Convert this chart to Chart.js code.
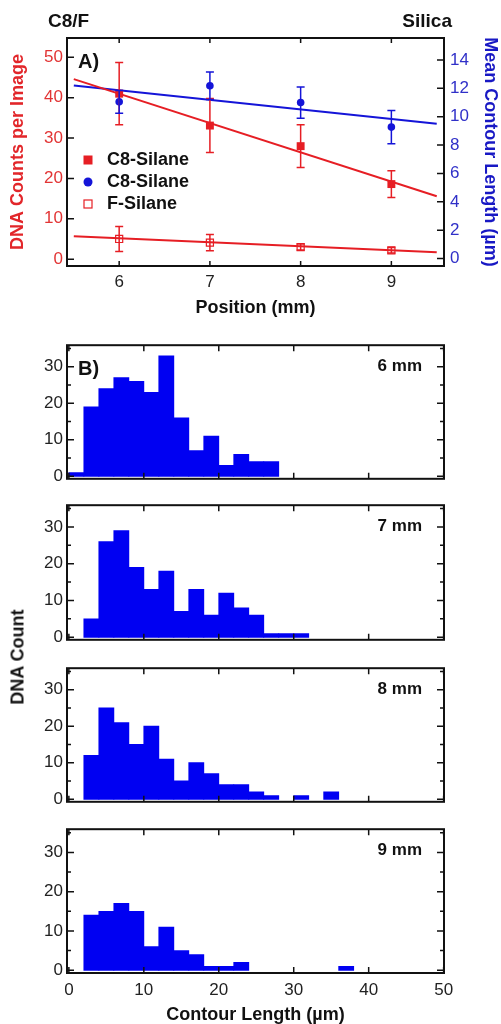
<!DOCTYPE html>
<html>
<head>
<meta charset="utf-8">
<title>DNA counts and contour lengths</title>
<script src="https://cdn.jsdelivr.net/npm/chart.js@4"></script>
<style>
  body { margin: 0; background: #fff; }
  .page { position: relative; width: 501px; height: 1024px; overflow: hidden; }
  .page canvas { position: absolute; left: 0; }
  .side-title {
    position: absolute; left: 18px; top: 657px;
    transform: translate(-50%, -50%) rotate(-90deg);
    font: bold 18px "Liberation Sans", Arial, sans-serif;
    color: #111; white-space: nowrap;
  }
</style>
</head>
<body>
<div class="page">
  <canvas id="positionChart" width="501" height="325" style="top:0"></canvas>
  <canvas id="hist6" width="501" height="162" style="top:331px"></canvas>
  <canvas id="hist7" width="501" height="163" style="top:491px"></canvas>
  <canvas id="hist8" width="501" height="162" style="top:654px"></canvas>
  <canvas id="hist9" width="501" height="209" style="top:815px"></canvas>
  <div class="side-title">DNA Count</div>
</div>
<script>
// panel A: counts and mean length vs position
const positions = [6, 7, 8, 9];
const c8Counts = [41, 33.1, 28, 18.6];
const c8CountErr = [7.7, 6.7, 5.3, 3.3];
const c8Lengths = [11.05, 12.18, 11.0, 9.27];
const c8LengthErr = [0.8, 0.97, 1.1, 1.17];
const fCounts = [5, 4.1, 3, 2.2];
const fCountErr = [3.1, 2.0, 0.75, 0.7];

// linear fits, drawn between the end positions
const fitPositions = [5.5, 9.5];
const c8CountFit = [44.6, 15.6];
const c8LengthFit = [12.2, 9.5];
const fCountFit = [5.7, 1.7];

const positionTicks = [6, 7, 8, 9];
const countTicks = [0, 10, 20, 30, 40, 50];
const lengthTicks = [0, 2, 4, 6, 8, 10, 12, 14];

// panel B: histograms, 2 um bins
const binCenters = [1, 3, 5, 7, 9, 11, 13, 15, 17, 19, 21, 23, 25, 27, 29, 31, 33, 35, 37];
const counts6mm = [1, 19, 24, 27, 26, 23, 33, 16, 7, 11, 3, 6, 4, 4, 0, 0, 0, 0, 0];
const counts7mm = [0, 5, 26, 29, 19, 13, 18, 7, 13, 6, 12, 8, 6, 1, 1, 1, 0, 0, 0];
const counts8mm = [0, 12, 25, 21, 15, 20, 11, 5, 10, 7, 4, 4, 2, 1, 0, 1, 0, 2, 0];
const counts9mm = [0, 14, 15, 17, 15, 6, 11, 5, 4, 1, 1, 2, 0, 0, 0, 0, 0, 0, 1];
const histLabels = ['6 mm', '7 mm', '8 mm', '9 mm'];
const lengthAxisTicks = [0, 10, 20, 30, 40, 50];
const histCountTicks = [0, 10, 20, 30];
const histMinorTicks = [5, 15, 25, 35];

const RED = '#e61e24';
const BLUE = '#1414d8';
const INK = '#111';

Chart.defaults.font.family = '"Liberation Sans", Arial, Helvetica, sans-serif';
Chart.defaults.color = '#222';

const pairs = (xs, ys) => xs.map((x, i) => ({ x, y: ys[i] }));
const fixedTicks = vals => scale => { scale.ticks = vals.map(v => ({ value: v })); };

// black frame around the plot area with inward tick marks
const frameTicks = {
  id: 'frameTicks',
  afterDatasetsDraw(chart, args, opts) {
    const { ctx, chartArea: a } = chart;
    ctx.save();
    ctx.strokeStyle = INK;
    ctx.lineWidth = 1.5;
    ctx.beginPath();
    for (const m of opts.marks || []) {
      const s = chart.scales[m.axis];
      for (const v of m.values) {
        const p = s.getPixelForValue(v);
        for (const side of m.sides) {
          if (side === 'top') { ctx.moveTo(p, a.top); ctx.lineTo(p, a.top + m.len); }
          if (side === 'bottom') { ctx.moveTo(p, a.bottom); ctx.lineTo(p, a.bottom - m.len); }
          if (side === 'left') { ctx.moveTo(a.left, p); ctx.lineTo(a.left + m.len, p); }
          if (side === 'right') { ctx.moveTo(a.right, p); ctx.lineTo(a.right - m.len, p); }
        }
      }
    }
    ctx.stroke();
    ctx.lineWidth = 2;
    ctx.strokeRect(a.left, a.top, a.right - a.left, a.bottom - a.top);
    ctx.restore();
  }
};

// free text placed relative to the plot area
const notes = {
  id: 'notes',
  afterDraw(chart, args, opts) {
    const { ctx, chartArea: a } = chart;
    ctx.save();
    ctx.fillStyle = INK;
    ctx.textBaseline = 'middle';
    for (const n of opts.items || []) {
      ctx.font = `bold ${n.size}px ${Chart.defaults.font.family}`;
      ctx.textAlign = n.align || 'left';
      ctx.fillText(n.text, (n.fromRight ? a.right : a.left) + n.dx, a.top + n.dy);
    }
    ctx.restore();
  }
};

// vertical error bars with caps
const errorBars = {
  id: 'errorBars',
  afterDatasetsDraw(chart) {
    const ctx = chart.ctx;
    chart.data.datasets.forEach((ds, i) => {
      if (!ds.errors) return;
      const meta = chart.getDatasetMeta(i);
      const ys = chart.scales[ds.yAxisID];
      ctx.save();
      ctx.strokeStyle = ds.borderColor;
      ctx.lineWidth = 1.5;
      ctx.beginPath();
      meta.data.forEach((pt, j) => {
        const v = ds.data[j].y, e = ds.errors[j];
        const top = ys.getPixelForValue(v + e), bot = ys.getPixelForValue(v - e);
        ctx.moveTo(pt.x, top); ctx.lineTo(pt.x, bot);
        ctx.moveTo(pt.x - 4, top); ctx.lineTo(pt.x + 4, top);
        ctx.moveTo(pt.x - 4, bot); ctx.lineTo(pt.x + 4, bot);
      });
      ctx.stroke();
      ctx.restore();
    });
  }
};

// legend drawn inside the plot area
const insetLegend = {
  id: 'insetLegend',
  afterDraw(chart, args, opts) {
    const { ctx, chartArea: a } = chart;
    const items = chart.data.datasets.filter(ds => !ds.showLine);
    ctx.save();
    ctx.font = `bold 18px ${Chart.defaults.font.family}`;
    ctx.textBaseline = 'middle';
    items.forEach((ds, i) => {
      const x = a.left + opts.dx, y = a.top + opts.dy + i * opts.rowGap;
      ctx.fillStyle = ds.backgroundColor;
      ctx.strokeStyle = ds.borderColor;
      ctx.lineWidth = 1.2;
      if (ds.pointStyle === 'circle') {
        ctx.beginPath(); ctx.arc(x, y, 4.5, 0, Math.PI * 2); ctx.fill();
      } else if (ds.backgroundColor === 'transparent') {
        ctx.strokeRect(x - 4, y - 4, 8, 8);
      } else {
        ctx.fillRect(x - 4.5, y - 4.5, 9, 9);
      }
      ctx.fillStyle = INK;
      ctx.fillText(ds.label, x + 19, y);
    });
    ctx.restore();
  }
};

const tickFont = { size: 17 };
const titleFont = { size: 18, weight: 'bold' };

new Chart(document.getElementById('positionChart'), {
  type: 'scatter',
  data: {
    datasets: [
      { label: 'C8-Silane', data: pairs(positions, c8Counts), errors: c8CountErr, yAxisID: 'y',
        pointStyle: 'rect', pointRadius: 5.6, backgroundColor: RED, borderColor: RED, borderWidth: 0 },
      { label: 'C8-Silane', data: pairs(positions, c8Lengths), errors: c8LengthErr, yAxisID: 'y2',
        pointStyle: 'circle', pointRadius: 3.8, backgroundColor: BLUE, borderColor: BLUE, borderWidth: 0 },
      { label: 'F-Silane', data: pairs(positions, fCounts), errors: fCountErr, yAxisID: 'y',
        pointStyle: 'rect', pointRadius: 5, backgroundColor: 'transparent', borderColor: RED, borderWidth: 1.2 },
      { label: 'fit', data: pairs(fitPositions, c8CountFit), yAxisID: 'y', showLine: true,
        pointRadius: 0, borderColor: RED, borderWidth: 2 },
      { label: 'fit', data: pairs(fitPositions, c8LengthFit), yAxisID: 'y2', showLine: true,
        pointRadius: 0, borderColor: BLUE, borderWidth: 2 },
      { label: 'fit', data: pairs(fitPositions, fCountFit), yAxisID: 'y', showLine: true,
        pointRadius: 0, borderColor: RED, borderWidth: 2 }
    ]
  },
  options: {
    responsive: false,
    animation: false,
    layout: { padding: { top: 38 } },
    scales: {
      x: {
        type: 'linear', min: 5.425, max: 9.58,
        afterBuildTicks: fixedTicks(positionTicks),
        afterFit: s => { s.height = 59; },
        grid: { display: false, drawTicks: false }, border: { display: false },
        ticks: { padding: 6, font: tickFont, color: '#222' },
        title: { display: true, text: 'Position (mm)', font: titleFont, color: INK, padding: { top: 0, bottom: 6 } }
      },
      y: {
        position: 'left', min: -1.7, max: 54.8,
        afterBuildTicks: fixedTicks(countTicks),
        afterFit: s => { s.width = 67; },
        grid: { display: false, drawTicks: false }, border: { display: false },
        ticks: { padding: 4, font: tickFont, color: '#e23434' },
        title: { display: true, text: 'DNA Counts per Image', font: titleFont, color: '#e2262a', padding: { top: 7, bottom: 0 } }
      },
      y2: {
        position: 'right', min: -0.52, max: 15.55,
        afterBuildTicks: fixedTicks(lengthTicks),
        afterFit: s => { s.width = 57; },
        grid: { display: false, drawTicks: false }, border: { display: false },
        ticks: { padding: 6, font: tickFont, color: '#3030c8' },
        title: { display: true, text: 'Mean Contour Length (µm)', font: titleFont, color: '#1818c4', padding: { top: 0, bottom: 0 } }
      }
    },
    plugins: {
      legend: { display: false },
      tooltip: { enabled: false },
      frameTicks: { marks: [
        { axis: 'x', values: positionTicks, len: 5, sides: ['top', 'bottom'] },
        { axis: 'y', values: countTicks, len: 7, sides: ['left'] },
        { axis: 'y2', values: lengthTicks, len: 7, sides: ['right'] }
      ] },
      notes: { items: [
        { text: 'A)', size: 20, dx: 11, dy: 24 },
        { text: 'C8/F', size: 19, dx: -19, dy: -16 },
        { text: 'Silica', size: 19, dx: 8, dy: -16, fromRight: true, align: 'right' }
      ] },
      insetLegend: { dx: 21, dy: 122, rowGap: 22 }
    }
  },
  plugins: [errorBars, frameTicks, notes, insetLegend]
});

function histogram(id, counts, label, index, last) {
  const notesItems = [{ text: label, size: 17, dx: -22, dy: 21, fromRight: true, align: 'right' }];
  if (index === 0) notesItems.push({ text: 'B)', size: 20, dx: 11, dy: 24 });
  new Chart(document.getElementById(id), {
    type: 'bar',
    data: {
      datasets: [{
        data: pairs(binCenters, counts),
        backgroundColor: '#0000f2',
        borderWidth: 0,
        // only the filled bins get the seam-hiding overlap
        inflateAmount: c => (c.raw && c.raw.y ? 0.4 : 0),
        barPercentage: 1,
        categoryPercentage: 1
      }]
    },
    options: {
      responsive: false,
      animation: false,
      layout: { padding: { top: 10, right: 57 } },
      scales: {
        x: {
          type: 'linear', min: -0.25, max: 50.05, offset: false,
          afterBuildTicks: fixedTicks(lengthAxisTicks),
          afterFit: s => { s.height = last ? 51 : 3; },
          grid: { display: false, drawTicks: false, offset: false }, border: { display: false },
          ticks: { display: last, padding: 7, font: tickFont, color: '#222' },
          title: { display: last, text: 'Contour Length (µm)', font: { size: 18, weight: 'bold', lineHeight: 1 }, color: INK, padding: { top: 0, bottom: 0 } }
        },
        y: {
          min: -0.7, max: 35.9,
          afterBuildTicks: fixedTicks(histCountTicks),
          afterFit: s => { s.width = 67; },
          grid: { display: false, drawTicks: false }, border: { display: false },
          ticks: { padding: 4, font: tickFont, color: '#222' }
        }
      },
      plugins: {
        legend: { display: false },
        tooltip: { enabled: false },
        frameTicks: { marks: [
          { axis: 'x', values: lengthAxisTicks, len: 6, sides: ['top', 'bottom'] },
          { axis: 'y', values: histCountTicks, len: 7, sides: ['left', 'right'] },
          { axis: 'y', values: histMinorTicks, len: 4, sides: ['left', 'right'] }
        ] },
        notes: { items: notesItems }
      }
    },
    plugins: [frameTicks, notes]
  });
}

histogram('hist6', counts6mm, histLabels[0], 0, false);
histogram('hist7', counts7mm, histLabels[1], 1, false);
histogram('hist8', counts8mm, histLabels[2], 2, false);
histogram('hist9', counts9mm, histLabels[3], 3, true);
</script>
</body>
</html>
